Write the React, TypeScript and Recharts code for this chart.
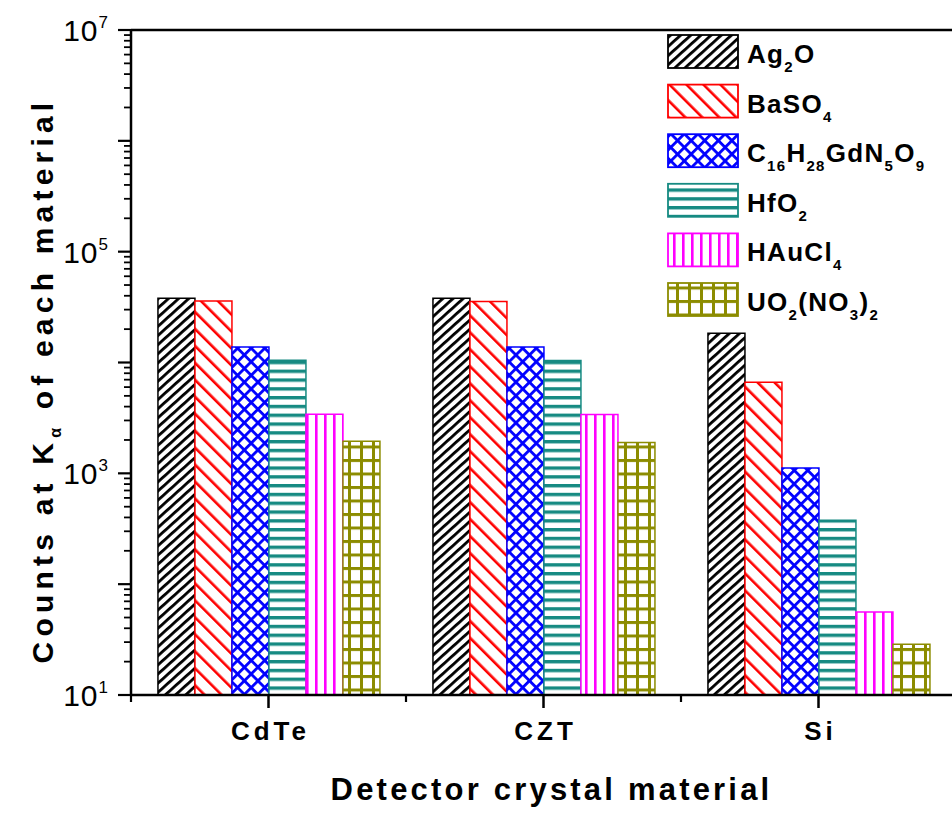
import React from 'react';
import { BarChart, Bar, XAxis, YAxis, Legend, ReferenceLine } from 'recharts';

const categories = ['CdTe', 'CZT', 'Si'];
const ag2oCounts = [38000, 38000, 18400];
const baso4Counts = [35800, 35600, 6650];
const gdComplexCounts = [13800, 13800, 1115];
const hfo2Counts = [10500, 10400, 378];
const haucl4Counts = [3420, 3400, 56];
const uo2Counts = [1950, 1900, 28.7];

const seriesKeys = ['ag2o', 'baso4', 'gd', 'hfo2', 'haucl4', 'uo2'];
const seriesNames = ['Ag_2O', 'BaSO_4', 'C_16H_28GdN_5O_9', 'HfO_2', 'HAuCl_4', 'UO_2(NO_3)_2'];
const seriesColors = ['#000000', '#ff0000', '#0000ff', '#168a82', '#ff00ff', '#8c8c00'];
const seriesValues = [ag2oCounts, baso4Counts, gdComplexCounts, hfo2Counts, haucl4Counts, uo2Counts];

const yDecades = [10, 100, 1000, 10000, 100000, 1000000, 10000000];
const yLabelledDecades = [10, 1000, 100000, 10000000];
const yMinorMantissas = [2, 3, 4, 5, 6, 7, 8, 9];

const xTitle = 'Detector crystal material';
const yTitleMain = 'Counts at K';
const yTitleSub = 'α';
const yTitleRest = ' of each material';

const FONT = '"Liberation Sans", Arial, Helvetica, sans-serif';

const rows = categories.map((cat, i) => {
  const r: any = { cat };
  seriesKeys.forEach((k, j) => {
    r[k] = seriesValues[j][i];
  });
  return r;
});

const yTicks: number[] = [];
yDecades.forEach((d, i) => {
  yTicks.push(d);
  if (i < yDecades.length - 1) yMinorMantissas.forEach((m) => yTicks.push(d * m));
});

function formula(s: string, subSize: number, dy: number) {
  const parts = s.split(/_(\d+)/);
  const out: any[] = [];
  let shifted = false;
  parts.forEach((p, i) => {
    if (!p) return;
    if (i % 2 === 1) {
      out.push(
        <tspan key={i} fontSize={subSize} dy={shifted ? 0 : dy}>
          {p}
        </tspan>
      );
      shifted = true;
    } else {
      out.push(
        <tspan key={i} dy={shifted ? -dy : 0}>
          {p}
        </tspan>
      );
      shifted = false;
    }
  });
  return out;
}

const YTick = (props: any) => {
  const { x, y, payload } = props;
  const v = payload.value;
  const major = yDecades.includes(v);
  const len = major ? 13 : 7;
  const exp = Math.round(Math.log10(v));
  return (
    <g>
      <line x1={x - len} x2={x} y1={y} y2={y} stroke="#000" strokeWidth={major ? 2.2 : 1.8} />
      {yLabelledDecades.includes(v) && (
        <text
          x={x - 22}
          y={y + 11}
          textAnchor="end"
          style={{ fontSize: 30, fontFamily: FONT, letterSpacing: 1 }}
          fill="#000"
        >
          10
          <tspan style={{ fontSize: 17 }} dy={-13}>
            {exp}
          </tspan>
        </text>
      )}
    </g>
  );
};

const XTick = (props: any) => {
  const { x, y, payload, index } = props;
  const half = payload && typeof payload.offset === 'number' ? payload.offset : 0;
  const showMinor = half > 20;
  return (
    <g>
      <line x1={x} x2={x} y1={y} y2={y + 13} stroke="#000" strokeWidth={2.5} />
      {showMinor && <line x1={x - half} x2={x - half} y1={y} y2={y + 7} stroke="#000" strokeWidth={2.2} />}
      {showMinor && index === categories.length - 1 && (
        <line x1={x + half} x2={x + half} y1={y} y2={y + 7} stroke="#000" strokeWidth={2.2} />
      )}
      <text
        x={x + 2}
        y={y + 45}
        textAnchor="middle"
        style={{ fontSize: 26, fontWeight: 'bold', fontFamily: FONT, letterSpacing: 4 }}
        fill="#000"
      >
        {payload.value}
      </text>
    </g>
  );
};

const XTitle = (props: any) => {
  const vb = props.viewBox || { x: 131, y: 695, width: 825, height: 125 };
  const cx = vb.x + vb.width / 2 + 8;
  return (
    <text
      x={cx}
      y={vb.y + 105}
      textAnchor="middle"
      style={{ fontSize: 31, fontWeight: 'bold', fontFamily: FONT, letterSpacing: 3.2 }}
      fill="#000"
    >
      {xTitle}
    </text>
  );
};

const YTitle = (props: any) => {
  const vb = props.viewBox || { x: 0, y: 30, width: 131, height: 665 };
  const cx = vb.x + 53;
  const cy = vb.y + vb.height / 2 + 18;
  return (
    <text
      x={cx}
      y={cy}
      transform={`rotate(-90, ${cx}, ${cy})`}
      textAnchor="middle"
      style={{ fontSize: 30, fontWeight: 'bold', fontFamily: FONT, letterSpacing: 5.2 }}
      fill="#000"
    >
      {yTitleMain}
      <tspan style={{ fontSize: 16 }} dy={8}>
        {yTitleSub}
      </tspan>
      <tspan dy={-8}>{yTitleRest}</tspan>
    </text>
  );
};

const LegendContent = (props: any) => {
  const payload = (props.payload || []).slice();
  payload.sort((a: any, b: any) => seriesKeys.indexOf(a.dataKey) - seriesKeys.indexOf(b.dataKey));
  const rowH = 49.6;
  return (
    <svg width={290} height={300} style={{ display: 'block', overflow: 'visible' }}>
      {payload.map((entry: any, i: number) => {
        const idx = seriesKeys.indexOf(entry.dataKey);
        const j = idx >= 0 ? idx : i;
        const top = 5 + i * rowH;
        return (
          <g key={j}>
            <rect
              x={4}
              y={top}
              width={70}
              height={33}
              fill={`url(#pat-${seriesKeys[j]})`}
              stroke={seriesColors[j]}
              strokeWidth={1.8}
            />
            <text
              x={83}
              y={top + 28}
              style={{ fontSize: 26, fontWeight: 'bold', fontFamily: FONT, letterSpacing: 1.3 }}
              fill="#000"
            >
              {formula(seriesNames[j], 15, 9)}
            </text>
          </g>
        );
      })}
    </svg>
  );
};

export default function App() {
  return (
    <div style={{ position: 'absolute', left: 0, top: 0, width: 952, height: 820, overflow: 'hidden', background: '#fff' }}>
      <BarChart
        width={960}
        height={820}
        data={rows}
        margin={{ top: 30, right: 4, left: 0, bottom: 0 }}
        barCategoryGap="9.8%"
        barGap={0}
      >
        <defs>
          <pattern id="pat-ag2o" patternUnits="userSpaceOnUse" width={6.8} height={6.8} patternTransform="rotate(48)">
            <rect width={6.8} height={6.8} fill="#fff" />
            <rect x={0} y={0} width={2.8} height={6.8} fill="#000" />
          </pattern>
          <pattern id="pat-baso4" patternUnits="userSpaceOnUse" width={12} height={12} patternTransform="rotate(-45)">
            <rect width={12} height={12} fill="#fff" />
            <rect x={0} y={0} width={2.6} height={12} fill="#ff0000" />
          </pattern>
          <pattern id="pat-gd" patternUnits="userSpaceOnUse" width={9.6} height={9.6} patternTransform="rotate(45)">
            <rect width={9.6} height={9.6} fill="#fff" />
            <rect x={0} y={0} width={2.8} height={9.6} fill="#0000ff" />
            <rect x={0} y={0} width={9.6} height={2.8} fill="#0000ff" />
          </pattern>
          <pattern id="pat-hfo2" patternUnits="userSpaceOnUse" width={10} height={8.8}>
            <rect width={10} height={8.8} fill="#fff" />
            <rect x={0} y={0} width={10} height={3.4} fill="#168a82" />
          </pattern>
          <pattern id="pat-haucl4" patternUnits="userSpaceOnUse" width={9} height={10}>
            <rect width={9} height={10} fill="#fff" />
            <rect x={0} y={0} width={2.6} height={10} fill="#ff00ff" />
          </pattern>
          <pattern id="pat-uo2" patternUnits="userSpaceOnUse" width={12} height={13.5}>
            <rect width={12} height={13.5} fill="#fff" />
            <rect x={0} y={0} width={3} height={13.5} fill="#8c8c00" />
            <rect x={0} y={0} width={12} height={3} fill="#8c8c00" />
          </pattern>
        </defs>
        <XAxis
          dataKey="cat"
          height={125}
          tickSize={0}
          tickMargin={0}
          tickLine={false}
          axisLine={{ stroke: '#000', strokeWidth: 2.5 }}
          tick={<XTick />}
          interval={0}
          label={{ content: <XTitle /> }}
        />
        <YAxis
          scale="log"
          domain={[10, 10000000]}
          allowDataOverflow
          ticks={yTicks}
          interval={0}
          width={131}
          tickSize={0}
          tickMargin={0}
          tickLine={false}
          axisLine={{ stroke: '#000', strokeWidth: 2.5 }}
          tick={<YTick />}
          label={{ content: <YTitle /> }}
        />
        <ReferenceLine y={10000000} stroke="#000" strokeWidth={2.5} ifOverflow="visible" />
        {seriesKeys.map((k, j) => (
          <Bar
            key={k}
            dataKey={k}
            name={seriesNames[j]}
            fill={`url(#pat-${k})`}
            stroke={seriesColors[j]}
            strokeWidth={1.5}
            isAnimationActive={false}
          />
        ))}
        <Legend
          layout="horizontal"
          verticalAlign="middle"
          align="center"
          itemSorter={null as any}
          content={<LegendContent />}
          wrapperStyle={{ left: 664, top: 30, width: 290, height: 300 }}
        />
      </BarChart>
    </div>
  );
}
